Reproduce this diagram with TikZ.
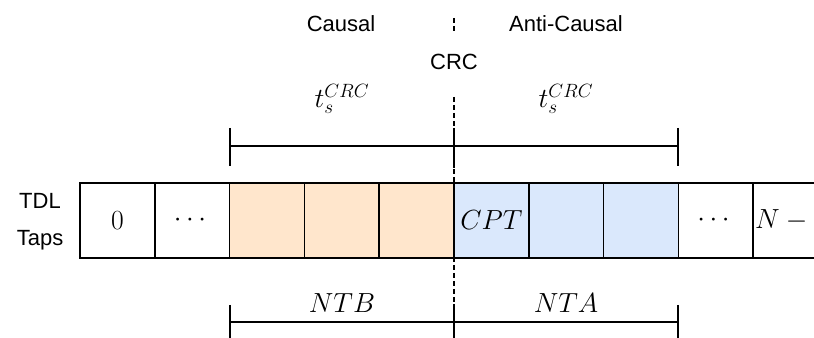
\documentclass[tikz,border=0pt]{standalone}
\usepackage{amsmath}
\usepackage{fontspec}
\setmainfont{Liberation Sans}
\usepackage{tikz}

\definecolor{causal}{HTML}{FFE6CC}
\definecolor{anticausal}{HTML}{DAE8FC}
\newcommand{\mathfont}{\fontsize{20.74}{25}\selectfont}
\newcommand{\captionfont}{\fontsize{16.5}{20}\selectfont}

\begin{document}
\begin{tikzpicture}[x=0.75pt, y=-0.75pt]
    \tikzstyle{tap}=[
        draw = black,
        line width = 1.2pt,
        fill = white,
        minimum width = 56.1pt,
        minimum height = 56.25pt,
        inner sep = 0pt,
        font = \mathfont
    ]
    \tikzstyle{causal tap}=[tap, fill = causal]
    \tikzstyle{anti tap}=[tap, fill = anticausal]
    \tikzstyle{caption}=[font = \captionfont, inner sep = 0pt]
    \tikzstyle{span}=[font = \mathfont, inner sep = 0pt]
    \tikzstyle{dim}=[-, line width = 1.2pt]
    \tikzstyle{split}=[-, line width = 1.2pt, dash pattern = on 3.5pt off 2.5pt]

    \clip (0, 0) rectangle (814, 338);

    % CRC split line
    \coordinate (s1) at (454, 18);
    \coordinate (s2) at (454, 34);
    \coordinate (s3) at (454, 97);
    \coordinate (s4) at (454, 306);
	\path[split] (s1) edge (s2);
	\path[split] (s3) edge (s4);

	\node[caption] (causal)  at (341, 24)  {Causal};
	\node[caption] (anti)    at (566, 24)  {Anti-Causal};
	\node[caption] (crc)     at (454, 62)  {CRC};
	\node[caption] (tdl)     at (40, 201)  {TDL};
	\node[caption] (taps)    at (40, 240)  {Taps};

    % taps
	\node[tap]        (c0) at (117.4, 220.5) {$0$};
	\node[tap]        (c1) at (192.2, 220.5) {$\cdots$};
	\node[causal tap] (c2) at (267.0, 220.5) {};
	\node[causal tap] (c3) at (341.8, 220.5) {};
	\node[causal tap] (c4) at (416.6, 220.5) {};
	\node[anti tap]   (c5) at (491.4, 220.5) {$CPT$};
	\node[anti tap]   (c6) at (566.2, 220.5) {};
	\node[anti tap]   (c7) at (641.0, 220.5) {};
	\node[tap]        (c8) at (715.8, 220.5) {$\cdots$};
	\node[tap]        (c9) at (790.6, 220.5) {$N-1$};

    % upper span
    \coordinate (ul) at (230, 146);
    \coordinate (um) at (454, 146);
    \coordinate (ur) at (678, 146);
    \coordinate (ul1) at (230, 128);
    \coordinate (ul2) at (230, 166);
    \coordinate (um1) at (454, 128);
    \coordinate (um2) at (454, 168);
    \coordinate (ur1) at (678, 128);
    \coordinate (ur2) at (678, 166);
	\path[dim] (ul) edge (ur);
	\path[dim] (ul1) edge (ul2);
	\path[dim] (um1) edge (um2);
	\path[dim] (ur1) edge (ur2);
	\node[span] (tb) at (342, 99) {$t_s^{CRC}$};
	\node[span] (ta) at (566, 99) {$t_s^{CRC}$};

    % lower span
    \coordinate (ll) at (230, 322);
    \coordinate (lr) at (678, 322);
    \coordinate (ll1) at (230, 305);
    \coordinate (ll2) at (230, 340);
    \coordinate (lm1) at (454, 304);
    \coordinate (lm2) at (454, 340);
    \coordinate (lr1) at (678, 305);
    \coordinate (lr2) at (678, 340);
	\path[dim] (ll) edge (lr);
	\path[dim] (ll1) edge (ll2);
	\path[dim] (lm1) edge (lm2);
	\path[dim] (lr1) edge (lr2);
	\node[span] (ntb) at (342, 303) {$NTB$};
	\node[span] (nta) at (566, 303) {$NTA$};

\end{tikzpicture}
\end{document}
